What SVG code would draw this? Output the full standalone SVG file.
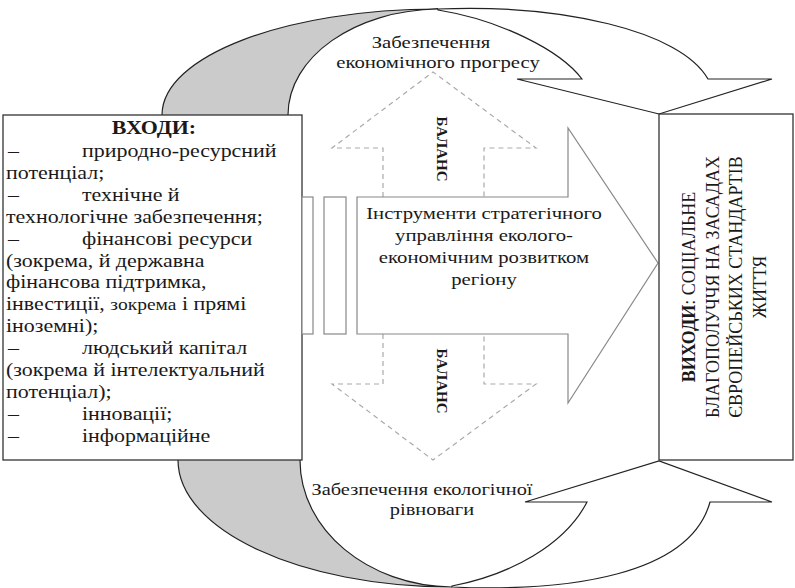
<svg xmlns="http://www.w3.org/2000/svg" width="795" height="588" viewBox="0 0 795 588">
<style>
.bg{fill:#fff}
.box{fill:#fff;stroke:#333;stroke-width:1.3}
.gray{fill:#cbcbcb;stroke:#222;stroke-width:1.2}
.arr{fill:#fff;stroke:#222;stroke-width:1.2}
.main{fill:#fff;stroke:#888;stroke-width:1.2}
.dash{fill:none;stroke:#aaa;stroke-width:1.2;stroke-dasharray:5 4}
text{font-family:"Liberation Serif","Times New Roman",serif;fill:#1a1a1a}
.t{font-size:17px}
.l{font-size:18px}
.c{text-anchor:middle}
.b{font-weight:bold}
.r{font-size:18px;text-anchor:middle}
.bal{font-size:15px;font-weight:bold;text-anchor:middle}
</style>
<rect class="bg" x="0" y="0" width="795" height="588"/>
<g id="connectors">
  <g id="arrow-economic">
    <path class="gray" d="M162,120 L162,115 C162,56 286,9 438,9 C355,10 288,57 288,115 L288,120 Z"/>
    <path class="arr" d="M438,9 C560,4 680,30 708,79 L772,79 L659,114 L517,79 L582,79 C560,50 500,20 438,10 Z"/>
  </g>
  <g id="arrow-ecological">
    <path class="gray" d="M178,455 L178,460 C178,530 300,587 452,587 C368,586 300,530 300,460 L300,455 Z"/>
    <path class="arr" d="M452,587 C570,592 690,575 710,502 L772,502 L659,461 L525,502 L587,502 C565,545 510,575 452,586 Z"/>
  </g>
  <g id="balance-up">
    <polyline class="dash" points="383,197 383,148 332,148 433,72 536,148 484,148 484,197"/>
    <text class="bal" transform="translate(437,149) rotate(90)">БАЛАНС</text>
  </g>
  <g id="balance-down">
    <polyline class="dash" points="383,334 383,384 332,384 433,460 536,384 484,384 484,334"/>
    <text class="bal" transform="translate(437,381) rotate(90)">БАЛАНС</text>
  </g>
</g>
<g id="label-economic">
  <text class="t c" transform="translate(431,48) scale(1.22,1)">Забезпечення</text>
  <text class="t c" transform="translate(438,68) scale(1.22,1)">економічного прогресу</text>
</g>
<g id="label-ecological">
  <text class="t c" transform="translate(422,495) scale(1.2,1)">Забезпечення екологічної</text>
  <text class="t c" transform="translate(432,515) scale(1.2,1)">рівноваги</text>
</g>
<g id="node-inputs">
  <rect class="box" x="3" y="115" width="299" height="345"/>
  <text class="l c b" transform="translate(154,134) scale(1.22,1)">ВХОДИ:</text>
  <text class="l" transform="translate(8,157) scale(1.22,1)">–</text>
  <text class="l" transform="translate(82,157) scale(1.22,1)">природно-ресурсний</text>
  <text class="l" transform="translate(6,178.9) scale(1.22,1)">потенціал;</text>
  <text class="l" transform="translate(8,200.8) scale(1.22,1)">–</text>
  <text class="l" transform="translate(82,200.8) scale(1.22,1)">технічне й</text>
  <text class="l" transform="translate(6,222.7) scale(1.22,1)">технологічне забезпечення;</text>
  <text class="l" transform="translate(8,244.6) scale(1.22,1)">–</text>
  <text class="l" transform="translate(82,244.6) scale(1.22,1)">фінансові ресурси</text>
  <text class="l" transform="translate(6,266.5) scale(1.22,1)">(зокрема, й державна</text>
  <text class="l" transform="translate(6,288.4) scale(1.22,1)">фінансова підтримка,</text>
  <text class="l" transform="translate(6,310.3) scale(1.22,1)">інвестиції, <tspan font-size="16">зокрема</tspan> і прямі</text>
  <text class="l" transform="translate(6,332.2) scale(1.22,1)">іноземні);</text>
  <text class="l" transform="translate(8,354.1) scale(1.22,1)">–</text>
  <text class="l" transform="translate(82,354.1) scale(1.22,1)">людський капітал</text>
  <text class="l" transform="translate(6,376) scale(1.22,1)">(зокрема й інтелектуальний</text>
  <text class="l" transform="translate(6,397.9) scale(1.22,1)">потенціал);</text>
  <text class="l" transform="translate(8,419.8) scale(1.22,1)">–</text>
  <text class="l" transform="translate(82,419.8) scale(1.22,1)">інновації;</text>
  <text class="l" transform="translate(8,441.7) scale(1.22,1)">–</text>
  <text class="l" transform="translate(82,441.7) scale(1.22,1)">інформаційне</text>
</g>
<g id="node-tools">
  <rect class="main" x="302" y="197" width="11" height="137"/>
  <rect class="main" x="324" y="197" width="22" height="137"/>
  <polygon class="main" points="357,197 568,197 568,128 658,263 568,403 568,334 357,334"/>
  <text class="t c" transform="translate(484,219) scale(1.22,1)">Інструменти стратегічного</text>
  <text class="t c" transform="translate(484,241) scale(1.22,1)">управління еколого-</text>
  <text class="t c" transform="translate(484,263) scale(1.22,1)">економічним розвитком</text>
  <text class="t c" transform="translate(484,285) scale(1.22,1)">регіону</text>
</g>
<g id="node-outputs">
  <rect class="box" x="659" y="114" width="134" height="346"/>
  <text class="r" transform="translate(695,287) rotate(-90)"><tspan font-weight="bold">ВИХОДИ</tspan>: СОЦІАЛЬНЕ</text>
  <text class="r" transform="translate(718.5,287) rotate(-90)">БЛАГОПОЛУЧЧЯ НА ЗАСАДАХ</text>
  <text class="r" transform="translate(742,287) rotate(-90)">ЄВРОПЕЙСЬКИХ СТАНДАРТІВ</text>
  <text class="r" transform="translate(765.5,287) rotate(-90)">ЖИТТЯ</text>
</g>
</svg>
